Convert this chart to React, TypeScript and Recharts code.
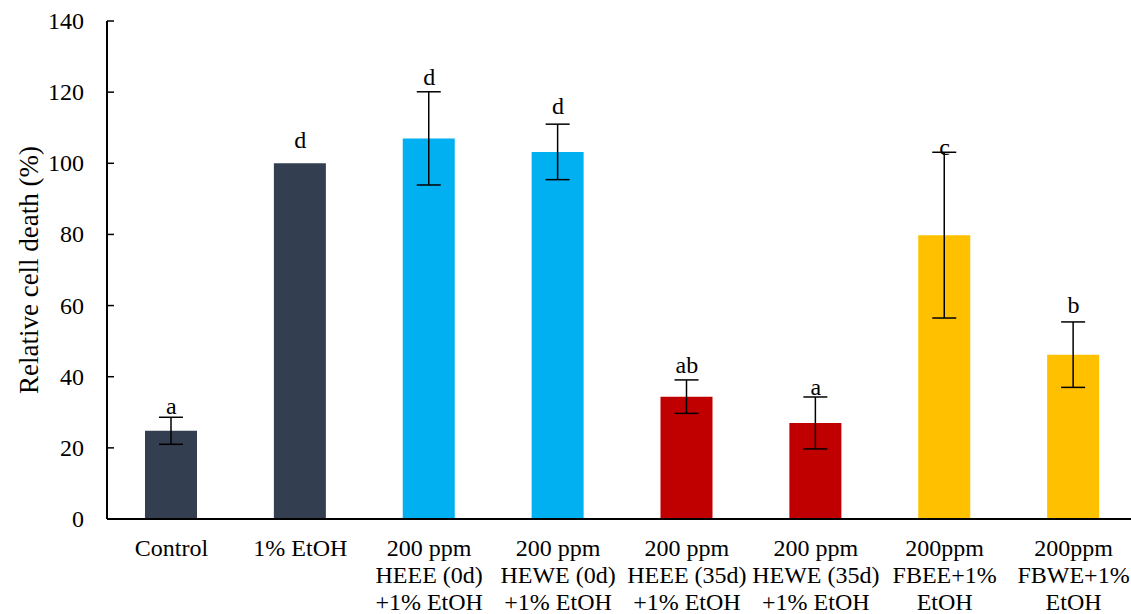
import React from "react";
import { ComposedChart, Bar, Line, XAxis, YAxis, ErrorBar, Cell, LabelList, Label } from "recharts";

const categories = [
  "Control",
  "1% EtOH",
  "200 ppm\nHEEE (0d)\n+1% EtOH",
  "200 ppm\nHEWE (0d)\n+1% EtOH",
  "200 ppm\nHEEE (35d)\n+1% EtOH",
  "200 ppm\nHEWE (35d)\n+1% EtOH",
  "200ppm\nFBEE+1%\nEtOH",
  "200ppm\nFBWE+1%\nEtOH",
];
const values = [24.8, 100, 107.0, 103.2, 34.4, 27.0, 79.8, 46.2];
const errors = [3.8, 0, 13.1, 7.8, 4.7, 7.3, 23.3, 9.2];
const letters = ["a", "d", "d", "d", "ab", "a", "c", "b"];
const letterHeights = [29.6, 104.3, 122.0, 113.9, 41.1, 34.9, 102.3, 57.9];
const colors = ["#333F50", "#333F50", "#00B0F0", "#00B0F0", "#C00000", "#C00000", "#FFC000", "#FFC000"];
const yTicks = [0, 20, 40, 60, 80, 100, 120, 140];

const data = categories.map((c, i) => ({
  name: c,
  value: values[i],
  err: errors[i],
  letter: letters[i],
  letterY: letterHeights[i],
}));

const FONT = "'Liberation Serif', 'Times New Roman', serif";
const MARGIN_LEFT = 23;
const YAXIS_WIDTH = 84;
const PLOT_LEFT = MARGIN_LEFT + YAXIS_WIDTH;

const XTick = (props: any) => {
  const { x, y, payload } = props;
  const lines = String(payload.value).split("\n");
  return (
    <text x={x} y={y + 37} textAnchor="middle" style={{ fontFamily: FONT, fontSize: 24 }} fill="#000">
      {lines.map((l, i) => (
        <tspan key={i} x={x} dy={i === 0 ? 0 : 27}>
          {l}
        </tspan>
      ))}
    </text>
  );
};

const YTick = (props: any) => {
  const { y, payload } = props;
  return (
    <g>
      <line x1={PLOT_LEFT} x2={PLOT_LEFT + 7} y1={y} y2={y} stroke="#000" strokeWidth={1.5} />
      <text
        x={PLOT_LEFT - 23}
        y={y + 8}
        textAnchor="end"
        style={{ fontFamily: FONT, fontSize: 24 }}
        fill="#000"
      >
        {payload.value}
      </text>
    </g>
  );
};

const LetterLabel = (props: any) => {
  const { x, y, value } = props;
  return (
    <text x={x} y={y} textAnchor="middle" style={{ fontFamily: FONT, fontSize: 24 }} fill="#000">
      {value}
    </text>
  );
};

export default function App() {
  return (
    <div style={{ position: "absolute", left: 0, top: 0, width: 1131, height: 614, overflow: "hidden", background: "#fff" }}>
      <ComposedChart width={1140} height={614} data={data} margin={{ top: 21, right: 2, bottom: 0, left: MARGIN_LEFT }}>
        <XAxis
          dataKey="name"
          interval={0}
          tick={<XTick />}
          tickLine={false}
          tickSize={0}
          tickMargin={0}
          height={95}
          axisLine={{ stroke: "#000", strokeWidth: 2 }}
        />
        <XAxis
          xAxisId="top"
          orientation="top"
          dataKey="name"
          tick={false}
          tickLine={false}
          height={0}
          axisLine={{ stroke: "#000", strokeWidth: 2 }}
        />
        <YAxis
          domain={[0, 140]}
          ticks={yTicks}
          interval={0}
          width={YAXIS_WIDTH}
          tickLine={false}
          axisLine={{ stroke: "#000", strokeWidth: 2 }}
          tick={<YTick />}
        >
          <Label
            value="Relative cell death (%)"
            angle={-90}
            position="insideLeft"
            offset={5}
            style={{ fontFamily: FONT, fontSize: 27, fill: "#000", textAnchor: "middle" }}
          />
        </YAxis>
        <Bar dataKey="value" barSize={52} isAnimationActive={false}>
          {data.map((d, i) => (
            <Cell key={i} fill={colors[i]} />
          ))}
          <ErrorBar dataKey="err" width={12} strokeWidth={1.5} stroke="#000" />
        </Bar>
        <Line
          dataKey="letterY"
          stroke="none"
          dot={false}
          activeDot={false}
          isAnimationActive={false}
        >
          <LabelList dataKey="letter" content={<LetterLabel />} />
        </Line>
      </ComposedChart>
    </div>
  );
}
